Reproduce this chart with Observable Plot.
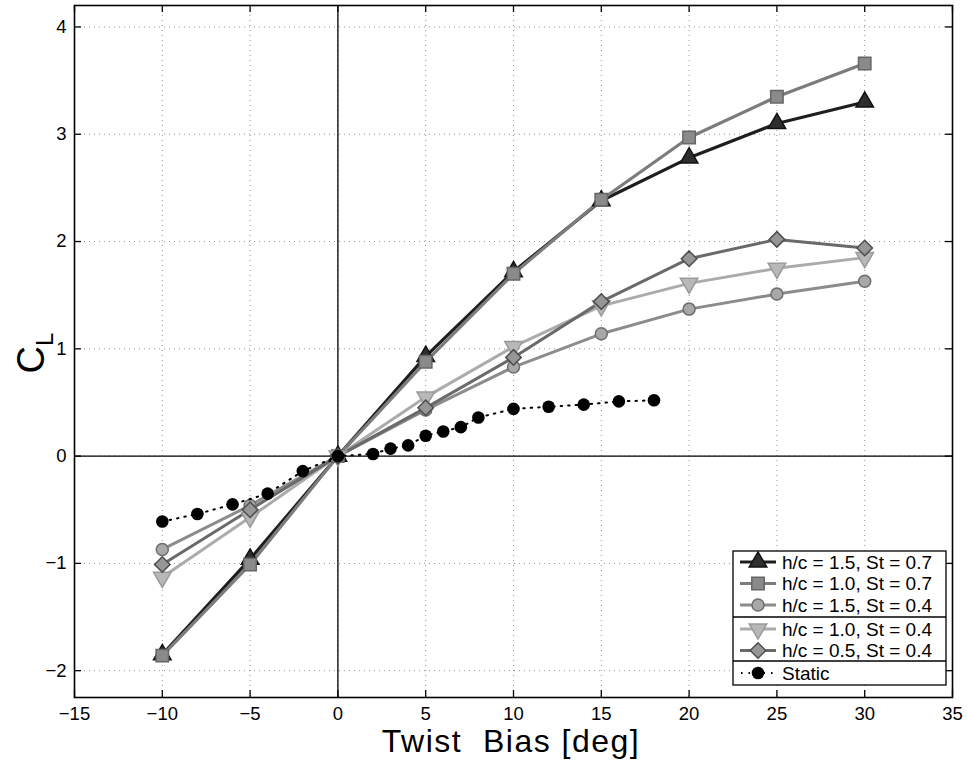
<!DOCTYPE html>
<html><head><meta charset="utf-8">
<script src="https://cdn.jsdelivr.net/npm/d3@7"></script>
<script src="https://cdn.jsdelivr.net/npm/@observablehq/plot@0.6"></script>
<style>
body{margin:0;background:#fff}
#chart svg{font-family:"Liberation Sans",Arial,Helvetica,sans-serif;background:#fff}
</style>
</head><body><div id="chart"></div>
<script>
// ---- data ----
const twistBias = [-10, -5, 0, 5, 10, 15, 20, 25, 30];
const clH15St07 = [-1.85, -0.96, 0, 0.93, 1.72, 2.38, 2.78, 3.10, 3.30];
const clH10St07 = [-1.86, -1.01, 0, 0.88, 1.70, 2.39, 2.97, 3.35, 3.66];
const clH15St04 = [-0.87, -0.46, 0, 0.43, 0.83, 1.14, 1.37, 1.51, 1.63];
const clH10St04 = [-1.13, -0.57, 0, 0.55, 1.02, 1.40, 1.61, 1.75, 1.85];
const clH05St04 = [-1.01, -0.50, 0, 0.45, 0.92, 1.44, 1.84, 2.02, 1.94];
const staticBias = [-10, -8, -6, -4, -2, 0, 2, 3, 4, 5, 6, 7, 8, 10, 12, 14, 16, 18];
const staticCL = [-0.61, -0.54, -0.45, -0.35, -0.14, 0, 0.02, 0.07, 0.10, 0.19, 0.23, 0.27, 0.36, 0.44, 0.46, 0.48, 0.51, 0.52];
const seriesLabels = ["h/c = 1.5, St = 0.7", "h/c = 1.0, St = 0.7", "h/c = 1.5, St = 0.4", "h/c = 1.0, St = 0.4", "h/c = 0.5, St = 0.4"];
const staticLabel = "Static";
const xTicks = [-15, -10, -5, 0, 5, 10, 15, 20, 25, 30, 35];
const yTicks = [-2, -1, 0, 1, 2, 3, 4];
const xLabel = "Twist  Bias [deg]";

// ---- styles ----
const seriesValues = [clH15St07, clH10St07, clH15St04, clH10St04, clH05St04];
const styles = [
  {line:"#1e1e1e", width:3.2, symbol:"triangle", r:6.5, rotate:0, fill:"#2e2e2e", stroke:"#111"},
  {line:"#7c7c7c", width:3.2, symbol:"square", r:7, rotate:0, fill:"#8a8a8a", stroke:"#666"},
  {line:"#8c8c8c", width:3, symbol:"circle", r:6, rotate:0, fill:"#a8a8a8", stroke:"#6e6e6e"},
  {line:"#ababab", width:3, symbol:"triangle", r:6.5, rotate:180, fill:"#b8b8b8", stroke:"#9a9a9a"},
  {line:"#6a6a6a", width:3, symbol:"diamond2", r:7, rotate:0, fill:"#969696", stroke:"#4e4e4e"}
];

const W = 967, H = 760;
const mL = 74, mR = 15, mT = 5, mB = 63;
const innerW = W - mL - mR, innerH = H - mT - mB;
const tickLen = 7;
const fmt = d => d < 0 ? "\u2212" + Math.abs(d) : String(d);

const tables = seriesValues.map((vals, i) => twistBias.map((b, j) => ({bias: b, cl: vals[j], s: i})));
const staticTable = staticBias.map((b, j) => ({bias: b, cl: staticCL[j]}));

const marks = [
  Plot.gridX(xTicks, {stroke:"#888", strokeOpacity:0.9, strokeDasharray:"1,4", strokeWidth:1}),
  Plot.gridY(yTicks, {stroke:"#888", strokeOpacity:0.9, strokeDasharray:"1,4", strokeWidth:1}),
  Plot.ruleX([0], {stroke:"#000", strokeWidth:1.3}),
  Plot.ruleY([0], {stroke:"#000", strokeWidth:1.3}),
  // inward ticks
  Plot.ruleX(xTicks, {stroke:"#000", strokeWidth:1.3, insetTop: innerH - tickLen}),
  Plot.ruleX(xTicks, {stroke:"#000", strokeWidth:1.3, insetBottom: innerH - tickLen}),
  Plot.ruleY(yTicks, {stroke:"#000", strokeWidth:1.3, insetRight: innerW - tickLen}),
  Plot.ruleY(yTicks, {stroke:"#000", strokeWidth:1.3, insetLeft: innerW - tickLen}),
  Plot.axisX(xTicks, {tickSize:0, tickPadding:9, fontSize:18.5, label:null, tickFormat: fmt}),
  Plot.axisY(yTicks, {tickSize:0, tickPadding:8, fontSize:18.5, label:null, tickFormat: fmt}),
];
tables.forEach((t, i) => {
  const s = styles[i];
  marks.push(Plot.line(t, {x:"bias", y:"cl", stroke:s.line, strokeWidth:s.width, strokeLinejoin:"round"}));
});
tables.forEach((t, i) => {
  const s = styles[i];
  marks.push(Plot.dot(t, {x:"bias", y:"cl", symbol:s.symbol, r:s.r, rotate:s.rotate, fill:s.fill, stroke:s.stroke, strokeWidth:1.5}));
});
marks.push(Plot.line(staticTable, {x:"bias", y:"cl", stroke:"#000", strokeWidth:2, strokeDasharray:"1.5,6"}));
marks.push(Plot.dot(staticTable, {x:"bias", y:"cl", r:6.3, fill:"#000", stroke:"none"}));
marks.push(Plot.frame({stroke:"#000", strokeWidth:1.6}));

const chart = Plot.plot({
  width: W, height: H,
  marginLeft: mL, marginRight: mR, marginTop: mT, marginBottom: mB,
  x: {domain:[-15, 35], axis:null},
  y: {domain:[-2.25, 4.2], axis:null},
  style: {fontFamily:'"Liberation Sans", Arial, sans-serif', color:"#000", background:"#fff"},
  marks
});
document.getElementById("chart").appendChild(chart);

// ---- titles & legend ----
const svg = d3.select(chart);
svg.append("text")
  .attr("x", mL + innerW/2 - 2).attr("y", H - 8)
  .attr("text-anchor", "middle").attr("font-size", 32).attr("letter-spacing", 1.5).attr("fill", "#000")
  .attr("xml:space", "preserve").style("white-space", "pre")
  .text(xLabel);
const yl = svg.append("text")
  .attr("transform", `translate(44,${mT + innerH/2 + 2}) rotate(-90)`)
  .attr("text-anchor", "middle").attr("font-size", 38).attr("fill", "#000");
yl.append("tspan").text("C");
yl.append("tspan").attr("font-size", 24).attr("dy", 9).text("L");

// legend
const lgX = 733, lgR = 946, lgTop = 551, lgBottom = 685;
const rows = [...seriesLabels, staticLabel];
const rowY = [562, 583.5, 605, 629, 650.5, 673];
const g = svg.append("g").attr("text-anchor", "start");
g.append("rect").attr("x", lgX).attr("y", lgTop).attr("width", lgR - lgX).attr("height", lgBottom - lgTop)
  .attr("fill", "#fff").attr("stroke", "#000").attr("stroke-width", 1.3);
[617, 661].forEach(yy => g.append("line").attr("x1", lgX).attr("x2", lgR).attr("y1", yy).attr("y2", yy).attr("stroke", "#000").attr("stroke-width", 1.3));
rows.forEach((lab, i) => {
  const y = rowY[i];
  if (i < 5) {
    const s = styles[i];
    g.append("line").attr("x1", 740).attr("x2", 776).attr("y1", y).attr("y2", y)
      .attr("stroke", s.line).attr("stroke-width", s.width);
    const sym = {triangle: d3.symbolTriangle, square: d3.symbolSquare, circle: d3.symbolCircle, diamond2: d3.symbolDiamond2}[s.symbol];
    g.append("path").attr("d", d3.symbol(sym, Math.PI * s.r * s.r)())
      .attr("transform", `translate(758,${y}) rotate(${s.rotate})`)
      .attr("fill", s.fill).attr("stroke", s.stroke).attr("stroke-width", 1.5);
  } else {
    g.append("line").attr("x1", 740).attr("x2", 776).attr("y1", y).attr("y2", y)
      .attr("stroke", "#000").attr("stroke-width", 2).attr("stroke-dasharray", "1.5,6").attr("stroke-dashoffset", -1);
    g.append("circle").attr("cx", 758).attr("cy", y).attr("r", 6.3).attr("fill", "#000");
  }
  g.append("text").attr("x", 782).attr("y", y).attr("dy", "0.36em").attr("text-anchor", "start")
    .attr("font-size", 19).attr("fill", "#000").text(lab);
});
</script>
</body></html>
